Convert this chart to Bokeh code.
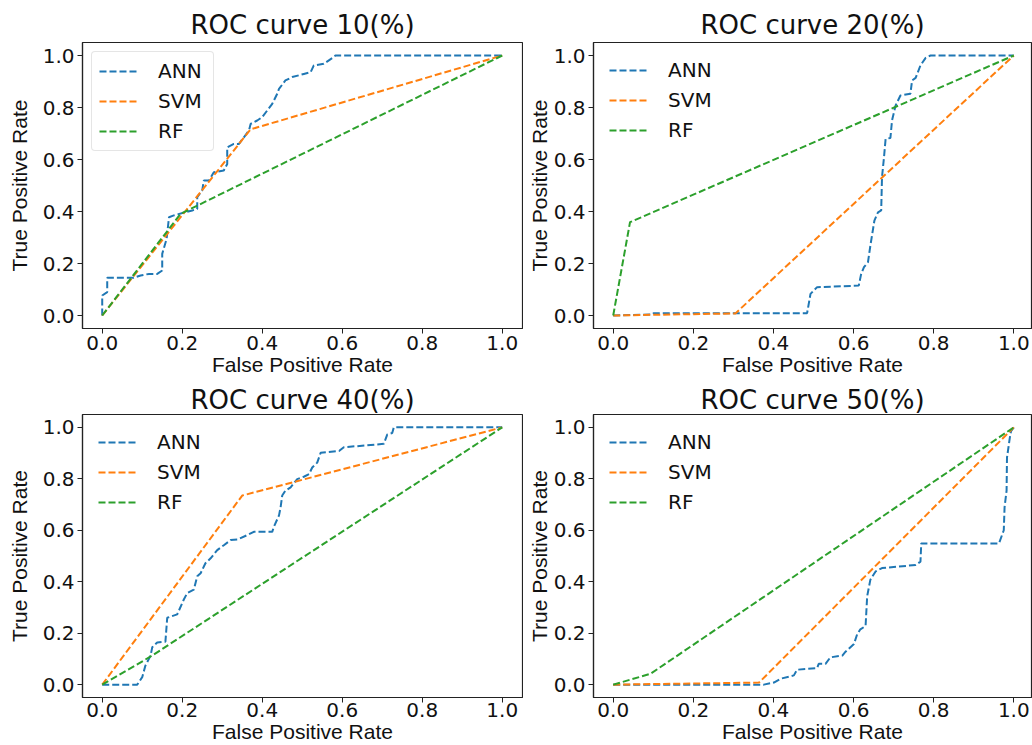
from bokeh.plotting import figure
from bokeh.layouts import column, row
from bokeh.models import Range1d, FixedTicker, NumeralTickFormatter, Legend, LegendItem
from bokeh.embed import file_html
from bokeh.resources import INLINE

# ---------------- data ----------------
titles = ["ROC curve 10(%)", "ROC curve 20(%)", "ROC curve 40(%)", "ROC curve 50(%)"]
x_label = "False Positive Rate"
y_label = "True Positive Rate"
series_names = ["ANN", "SVM", "RF"]
series_colors = ["#1f77b4", "#ff7f0e", "#2ca02c"]
tick_values = [0.0, 0.2, 0.4, 0.6, 0.8, 1.0]

# 10 %
ann10_fpr = [0, 0, 0.0125, 0.0125, 0.079, 0.096, 0.117, 0.1375, 0.15, 0.15, 0.161, 0.167, 0.179, 0.225, 0.2375,
             0.2375, 0.25, 0.254, 0.267, 0.279, 0.304, 0.3125, 0.3125, 0.329, 0.342, 0.367, 0.371, 0.3875, 0.4,
             0.425, 0.4375, 0.442, 0.458, 0.475, 0.504, 0.521, 0.529, 0.554, 0.579, 0.583, 1.0]
ann10_tpr = [0, 0.077, 0.09, 0.145, 0.145, 0.154, 0.160, 0.160, 0.173, 0.237, 0.295, 0.378, 0.385, 0.404, 0.41,
             0.455, 0.481, 0.519, 0.519, 0.551, 0.558, 0.583, 0.647, 0.660, 0.660, 0.712, 0.737, 0.75, 0.763,
             0.814, 0.853, 0.872, 0.904, 0.917, 0.929, 0.936, 0.962, 0.968, 0.994, 1.0, 1.0]
svm10_fpr = [0, 0.371, 1.0]
svm10_tpr = [0, 0.716, 1.0]
rf10_fpr = [0, 0.196, 1.0]
rf10_tpr = [0, 0.391, 1.0]

# 20 %
ann20_fpr = [0, 0.097, 0.1015, 0.484, 0.4925, 0.509, 0.613, 0.619, 0.626, 0.636, 0.642, 0.652, 0.661, 0.669,
             0.671, 0.676, 0.680, 0.692, 0.696, 0.705, 0.717, 0.742, 0.746, 0.755, 0.767, 0.780, 0.792, 1.0]
ann20_tpr = [0, 0.004, 0.009, 0.009, 0.083, 0.109, 0.115, 0.160, 0.186, 0.205, 0.269, 0.365, 0.397, 0.404,
             0.532, 0.609, 0.679, 0.683, 0.75, 0.808, 0.846, 0.853, 0.904, 0.914, 0.962, 0.991, 1.0, 1.0]
svm20_fpr = [0, 0.305, 1.0]
svm20_tpr = [0, 0.008, 1.0]
rf20_fpr = [0, 0.042, 1.0]
rf20_tpr = [0, 0.359, 1.0]

# 40 %
ann40_fpr = [0, 0.0875, 0.1, 0.108, 0.121, 0.125, 0.1375, 0.158, 0.1625, 0.1875, 0.204, 0.2125, 0.229, 0.2375,
             0.246, 0.258, 0.271, 0.2875, 0.304, 0.321, 0.3375, 0.3625, 0.379, 0.425, 0.429, 0.442, 0.446, 0.45,
             0.458, 0.471, 0.4875, 0.504, 0.517, 0.525, 0.5375, 0.546, 0.592, 0.604, 0.6375, 0.704, 0.7125,
             0.725, 0.729, 1.0]
ann40_tpr = [0, 0, 0.029, 0.074, 0.113, 0.145, 0.164, 0.167, 0.260, 0.273, 0.331, 0.356, 0.369, 0.421, 0.433,
             0.472, 0.491, 0.523, 0.542, 0.562, 0.564, 0.581, 0.594, 0.594, 0.613, 0.658, 0.690, 0.735, 0.754,
             0.767, 0.799, 0.808, 0.818, 0.844, 0.863, 0.901, 0.908, 0.923, 0.927, 0.936, 0.972, 0.978, 1.0, 1.0]
svm40_fpr = [0, 0.35, 1.0]
svm40_tpr = [0, 0.735, 1.0]
rf40_fpr = [0, 0.125, 1.0]
rf40_tpr = [0, 0.113, 1.0]

# 50 %
ann50_fpr = [0, 0.376, 0.401, 0.418, 0.451, 0.459, 0.509, 0.513, 0.530, 0.542, 0.572, 0.580, 0.601, 0.609,
             0.617, 0.630, 0.634, 0.642, 0.655, 0.671, 0.755, 0.767, 0.769, 0.963, 0.975, 0.977, 0.982, 0.983,
             0.990, 0.993, 1.0]
ann50_tpr = [0, 0, 0.008, 0.023, 0.036, 0.058, 0.064, 0.081, 0.081, 0.106, 0.113, 0.128, 0.158, 0.196,
             0.215, 0.228, 0.344, 0.408, 0.440, 0.453, 0.465, 0.478, 0.549, 0.549, 0.6, 0.690, 0.754, 0.882,
             0.959, 0.985, 1.0]
svm50_fpr = [0, 0.364, 1.0]
svm50_tpr = [0, 0.008, 1.0]
rf50_fpr = [0, 0.093, 1.0]
rf50_tpr = [0, 0.042, 1.0]

panels = [
    [(ann10_fpr, ann10_tpr), (svm10_fpr, svm10_tpr), (rf10_fpr, rf10_tpr)],
    [(ann20_fpr, ann20_tpr), (svm20_fpr, svm20_tpr), (rf20_fpr, rf20_tpr)],
    [(ann40_fpr, ann40_tpr), (svm40_fpr, svm40_tpr), (rf40_fpr, rf40_tpr)],
    [(ann50_fpr, ann50_tpr), (svm50_fpr, svm50_tpr), (rf50_fpr, rf50_tpr)],
]


def make_panel(idx, width, height, bl, br, bt, bb, xr, legend_frame, title_standoff, xlab_standoff,
               ylab_standoff):
    p = figure(width=width, height=height, output_backend="svg", toolbar_location=None,
               x_range=Range1d(*xr), y_range=Range1d(-0.05, 1.05),
               min_border_left=bl, min_border_right=br,
               min_border_top=bt, min_border_bottom=bb,
               title=titles[idx])
    p.title.align = "center"
    p.title.text_font = "DejaVu Sans"
    p.title.text_font_size = "26px"
    p.title.text_font_style = "normal"
    p.title.text_color = "#111111"
    p.title.standoff = title_standoff
    p.xgrid.visible = False
    p.ygrid.visible = False
    p.outline_line_color = "#222222"
    p.outline_line_width = 1.2
    p.background_fill_color = "white"
    p.border_fill_color = "white"
    for ax in (p.xaxis[0], p.yaxis[0]):
        ax.ticker = FixedTicker(ticks=tick_values)
        ax.formatter = NumeralTickFormatter(format="0.0")
        ax.minor_tick_line_color = None
        ax.major_tick_in = 0
        ax.major_tick_out = 5
        ax.major_tick_line_color = "#222222"
        ax.axis_line_color = "#222222"
        ax.axis_line_width = 1.2
        ax.major_label_text_font = "DejaVu Sans"
        ax.major_label_text_font_size = "20px"
        ax.major_label_text_color = "#111111"
        ax.axis_label_text_font = "Liberation Sans"
        ax.axis_label_text_font_size = "21px"
        ax.axis_label_text_font_style = "normal"
        ax.axis_label_text_color = "#111111"
    p.xaxis[0].axis_label = x_label
    p.yaxis[0].axis_label = y_label
    p.xaxis[0].major_label_standoff = xlab_standoff
    p.xaxis[0].axis_label_standoff = 0
    p.yaxis[0].major_label_standoff = 3
    p.yaxis[0].axis_label_standoff = ylab_standoff

    items = []
    for (xs, ys), name, color in zip(panels[idx], series_names, series_colors):
        r = p.line(xs, ys, line_color=color, line_width=2, line_dash="7 3")
        items.append(LegendItem(label=name, renderers=[r]))
    leg = Legend(items=items, location="top_left")
    leg.margin = 9
    leg.padding = 7
    leg.spacing = 6
    leg.glyph_width = 40
    leg.glyph_height = 22
    leg.label_height = 22
    leg.label_width = 48
    leg.label_standoff = 19
    leg.label_text_font = "DejaVu Sans"
    leg.label_text_font_size = "20px"
    leg.label_text_color = "#111111"
    if legend_frame:
        leg.border_line_color = "#cccccc"
        leg.border_line_width = 1
        leg.border_radius = 4
        leg.background_fill_color = "white"
        leg.background_fill_alpha = 0.8
    else:
        leg.border_line_alpha = 0
        leg.background_fill_alpha = 0
    p.add_layout(leg)
    return p


XL = (-0.0493, 1.0507)
XR = (-0.0492, 1.0442)
p1 = make_panel(0, 523, 382, 82, 1, 42, 54, XL, True, 6, 2, 9)
p2 = make_panel(1, 509, 382, 70, 1, 42, 54, XR, False, 6, 2, 0)
p3 = make_panel(2, 523, 363, 82, 1, 31, 47, XL, False, 0, 0, 9)
p4 = make_panel(3, 509, 363, 70, 1, 31, 47, XR, False, 0, 0, 0)

layout = column(row(p1, p2, spacing=0), row(p3, p4, spacing=0), spacing=0)

open("out.html", "w").write(file_html(layout, INLINE))
